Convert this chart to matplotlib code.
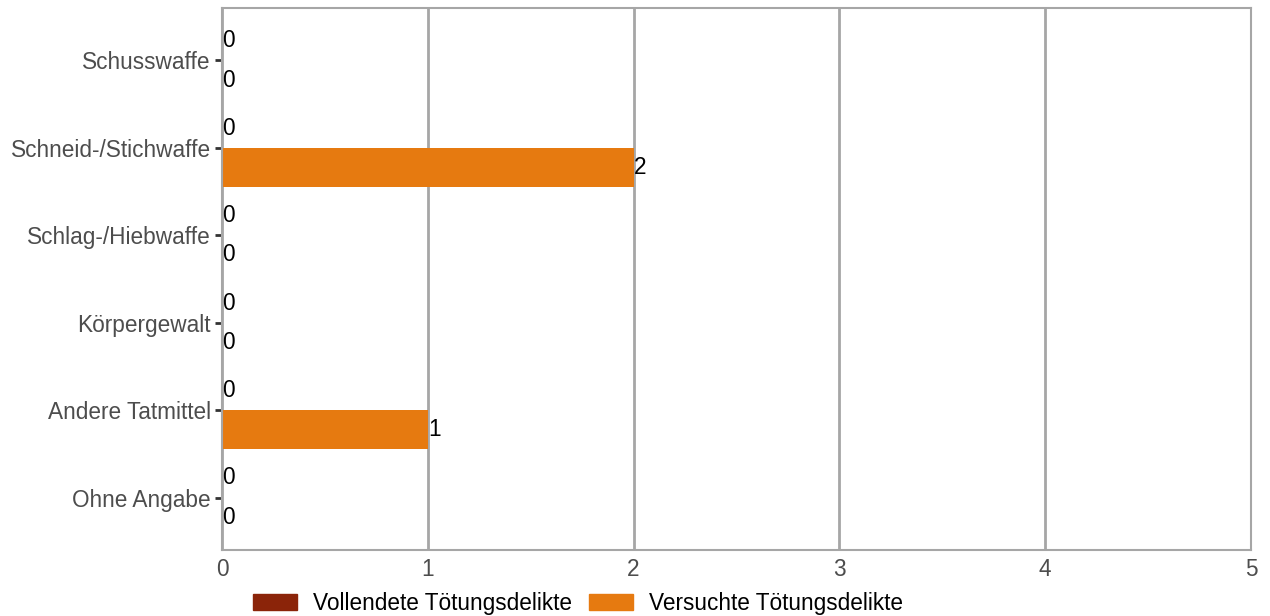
import matplotlib
matplotlib.use('Agg')
import matplotlib.pyplot as plt
from matplotlib.patches import Rectangle
import numpy as np

plt.rcParams['font.family'] = ['Liberation Sans', 'DejaVu Sans']

# data
categories = ['Schusswaffe', 'Schneid-/Stichwaffe', 'Schlag-/Hiebwaffe',
              'Körpergewalt', 'Andere Tatmittel', 'Ohne Angabe']
vollendete = [0, 0, 0, 0, 0, 0]
versuchte = [0, 2, 0, 0, 1, 0]
series_names = ['Vollendete Tötungsdelikte', 'Versuchte Tötungsdelikte']
colors = ['#8B2409', '#E67A10']
x_ticks = [0, 1, 2, 3, 4, 5]

fs = 16.3

fig = plt.figure(figsize=(12.7, 6.16), dpi=100)
ax = fig.add_axes([222 / 1270, 1 - 550 / 616, (1251 - 222) / 1270, (550 - 8) / 616])

y = np.arange(len(categories))
w = 0.45
b1 = ax.barh(y - w / 2, vollendete, height=w, color=colors[0])
b2 = ax.barh(y + w / 2, versuchte, height=w, color=colors[1])

# value labels at bar ends
ax.bar_label(b1, labels=[str(v) for v in vollendete], padding=0, fontsize=fs, color='black')
ax.bar_label(b2, labels=[str(v) for v in versuchte], padding=0, fontsize=fs, color='black')

ax.set_xlim(0, 5)
ax.set_ylim(len(categories) - 0.4, -0.6)
ax.set_yticks(y)
ax.set_yticklabels(categories)
ax.set_xticks(x_ticks)
ax.set_xticklabels([str(t) for t in x_ticks])

ax.tick_params(axis='y', length=5, width=2, color='#333333', labelsize=fs,
               labelcolor='#4d4d4d', pad=3)
ax.tick_params(axis='x', length=0, labelsize=fs, labelcolor='#4d4d4d', pad=6)

ax.grid(axis='x', color='#a6a6a6', linewidth=2)
ax.set_axisbelow(True)
for s in ax.spines.values():
    s.set_color('#a6a6a6')
    s.set_linewidth(1.5)

handles = [Rectangle((0, 0), 1, 1, color=c) for c in colors]
fig.legend(handles, series_names, loc='center left', bbox_to_anchor=(0.199, 0.021),
           ncol=2, frameon=False, fontsize=fs, handlelength=1.95, handleheight=0.7,
           handletextpad=0.7, columnspacing=0.75, borderpad=0, borderaxespad=0)

plt.savefig('out.png', dpi=100)
plt.close()
